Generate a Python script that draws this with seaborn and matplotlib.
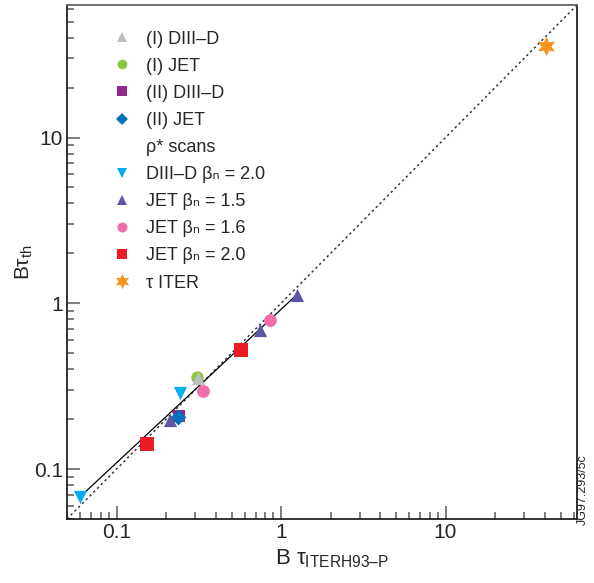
import matplotlib
matplotlib.use("Agg")
import matplotlib.pyplot as plt
from matplotlib.lines import Line2D
from matplotlib.ticker import FuncFormatter, LogLocator
import pandas as pd
import seaborn as sns

# data (B*tau_ITERH93-P vs B*tau_th)
groups = ["(I) JET", "(I) DIII–D", "(II) DIII–D", "(II) JET",
          "DIII–D βn=2.0", "JET βn=1.5", "JET βn=1.6", "JET βn=2.0", "τ ITER"]
x_vals = [[0.31], [0.312], [0.24], [0.238],
          [0.06, 0.244], [0.212, 0.75, 1.25], [0.334, 0.853], [0.154, 0.575], [41.0]]
y_vals = [[0.36], [0.355], [0.21], [0.205],
          [0.068, 0.288], [0.197, 0.69, 1.13], [0.295, 0.789], [0.141, 0.522], [35.5]]
legend_labels = ["(I) DIII–D", "(I) JET", "(II) DIII–D", "(II) JET", "ρ* scans",
                 "DIII–D βₙ = 2.0", "JET βₙ = 1.5",
                 "JET βₙ = 1.6", "JET βₙ = 2.0", "τ ITER"]
fit_x = [0.06, 1.25]
fit_y = [0.068, 1.13]
lims = [0.05, 63.0]

style = {
    "(I) DIII–D": ("^", "#BCBEC0", 90),
    "(I) JET": ("o", "#8DC63F", 80),
    "(II) DIII–D": ("s", "#92278F", 85),
    "(II) JET": ("D", "#0072BC", 65),
    "DIII–D βn=2.0": ("v", "#00AEEF", 90),
    "JET βn=1.5": ("^", "#5C55A3", 90),
    "JET βn=1.6": ("o", "#F06EAA", 85),
    "JET βn=2.0": ("s", "#ED1C24", 95),
    "τ ITER": ((6, 1, 0), "#F7941D", 200),
}

sns.set_theme(style="white")
plt.rcParams["font.family"] = ["Liberation Sans", "DejaVu Sans"]
plt.rcParams["mathtext.fontset"] = "custom"
plt.rcParams["mathtext.rm"] = "Liberation Sans"
plt.rcParams["mathtext.it"] = "Liberation Sans"
plt.rcParams["mathtext.bf"] = "Liberation Sans:bold"

fig = plt.figure(figsize=(5.94, 5.83), dpi=100)
ax = fig.add_axes([0.1128, 0.1098, 0.8586, 0.8816])

ax.plot(lims, lims, color="#333333", linestyle=(0, (1.5, 2)), linewidth=1.1, zorder=1)
ax.plot(fit_x, fit_y, color="black", linewidth=0.9, zorder=1)

rows = []
for g, xs, ys in zip(groups, x_vals, y_vals):
    for xv, yv in zip(xs, ys):
        rows.append({"group": g, "x": xv, "y": yv})
df = pd.DataFrame(rows)

for g in groups:
    m, c, s = style[g]
    sns.scatterplot(data=df[df["group"] == g], x="x", y="y", marker=m, color=c,
                    s=s, linewidth=0, ax=ax, zorder=3, legend=False)

ax.set_xscale("log")
ax.set_yscale("log")
ax.set_xlim(lims)
ax.set_ylim(lims)

fmt = FuncFormatter(lambda v, _: f"{v:g}")
for axis in (ax.xaxis, ax.yaxis):
    axis.set_major_locator(LogLocator(base=10))
    axis.set_minor_locator(LogLocator(base=10, subs=range(2, 10)))
    axis.set_major_formatter(fmt)
    axis.set_minor_formatter(FuncFormatter(lambda v, _: ""))
ax.tick_params(which="both", direction="in", color="#666666", width=1.2,
               bottom=True, left=True, top=False, right=False)
ax.tick_params(which="major", length=9.5, labelsize=15, pad=3)
ax.tick_params(which="minor", length=5)
for name, sp in ax.spines.items():
    sp.set_color("#666666" if name == "top" else "#222222")
    sp.set_linewidth(1.3)

ax.set_xlabel(r"B $\tau_{\mathrm{ITERH93–P}}$", fontsize=16)
ax.xaxis.set_label_coords(0.52, -0.055, transform=ax.transAxes)
ax.xaxis.label.set_va("top")
ax.set_ylabel(r"B$\tau_{\mathrm{th}}$", fontsize=15, labelpad=-1)

# legend
order = ["(I) DIII–D", "(I) JET", "(II) DIII–D", "(II) JET", None,
         "DIII–D βn=2.0", "JET βn=1.5", "JET βn=1.6", "JET βn=2.0", "τ ITER"]
handles = []
for g in order:
    if g is None:
        handles.append(Line2D([], [], linestyle="none", marker=None))
        continue
    m, c, s = style[g]
    ms = (s ** 0.5) * 0.78
    handles.append(Line2D([], [], linestyle="none", marker=m, color=c,
                          markersize=ms, markeredgewidth=0))
ax.legend(handles, legend_labels, loc="upper left", bbox_to_anchor=(0.055, 0.982),
          frameon=False, fontsize=13, labelspacing=0.56, handletextpad=0.7,
          handlelength=1.2)

fig.text(0.982, 0.16, "JG97.293/5c", rotation=90, fontsize=9, ha="center", va="center")

fig.savefig("out.png", dpi=100)
